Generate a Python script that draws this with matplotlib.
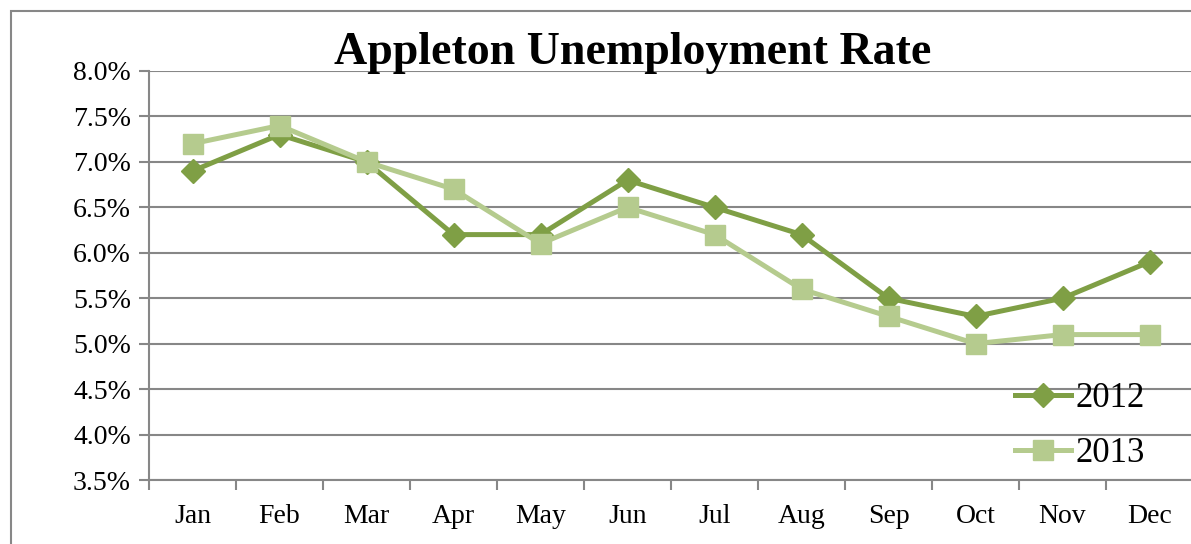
import matplotlib.pyplot as plt
from matplotlib.patches import Rectangle
from matplotlib.ticker import FuncFormatter

plt.rcParams['font.family'] = ['Liberation Serif', 'DejaVu Serif']

months = ['Jan', 'Feb', 'Mar', 'Apr', 'May', 'Jun',
          'Jul', 'Aug', 'Sep', 'Oct', 'Nov', 'Dec']
rate_2012 = [6.9, 7.3, 7.0, 6.2, 6.2, 6.8, 6.5, 6.2, 5.5, 5.3, 5.5, 5.9]
rate_2013 = [7.2, 7.4, 7.0, 6.7, 6.1, 6.5, 6.2, 5.6, 5.3, 5.0, 5.1, 5.1]
y_ticks = [3.5, 4.0, 4.5, 5.0, 5.5, 6.0, 6.5, 7.0, 7.5, 8.0]

dark_green = '#7f9f45'
light_green = '#b5cb8e'
grid_gray = '#878787'

W, H = 1191, 544
fig = plt.figure(figsize=(W / 100, H / 100), dpi=100)

# outer chart frame
fig.patches.append(Rectangle((11 / W, -0.1), 1.2, 1 - 11 / H + 0.1,
                             transform=fig.transFigure, fill=False,
                             edgecolor=grid_gray, linewidth=1.5))

ax = fig.add_axes([149 / W, 64 / H, 1044 / W, 409 / H])
x = list(range(len(months)))

ax.plot(x, rate_2012, color=dark_green, linewidth=3.6, marker='D',
        markersize=12, label='2012', zorder=2)
ax.plot(x, rate_2013, color=light_green, linewidth=3.6, marker='s',
        markersize=15, label='2013', zorder=3)

ax.set_xlim(-0.5, 11.5)
ax.set_ylim(3.5, 8.0)
ax.set_yticks(y_ticks)
ax.yaxis.set_major_formatter(FuncFormatter(lambda v, p: '%.1f%%' % v))
ax.set_xticks(x)
ax.set_xticklabels(months)
ax.set_xticks([i - 0.5 for i in range(13)], minor=True)

ax.grid(axis='y', color=grid_gray, linewidth=1.5, zorder=0)
ax.set_axisbelow(True)
for side in ['top', 'right']:
    ax.spines[side].set_visible(False)
for side in ['left', 'bottom']:
    ax.spines[side].set_color(grid_gray)
    ax.spines[side].set_linewidth(1.5)

ax.tick_params(axis='y', length=7, width=1.5, color=grid_gray,
               labelsize=20, pad=6)
ax.tick_params(axis='x', which='major', length=0, labelsize=20, pad=17)
ax.tick_params(axis='x', which='minor', length=7, width=1.5, color=grid_gray)

fig.text(633 / W, 1 - 64 / H, 'Appleton Unemployment Rate',
         ha='center', va='baseline', fontsize=33, fontweight='bold')

ax.legend(loc='center left', bbox_to_anchor=(1015 / W, 1 - 426 / H),
          bbox_transform=fig.transFigure, frameon=False, fontsize=25,
          handlelength=1.6, handletextpad=0.15, labelspacing=0.65,
          borderpad=0, borderaxespad=0)

fig.savefig('out.png', dpi=100)
